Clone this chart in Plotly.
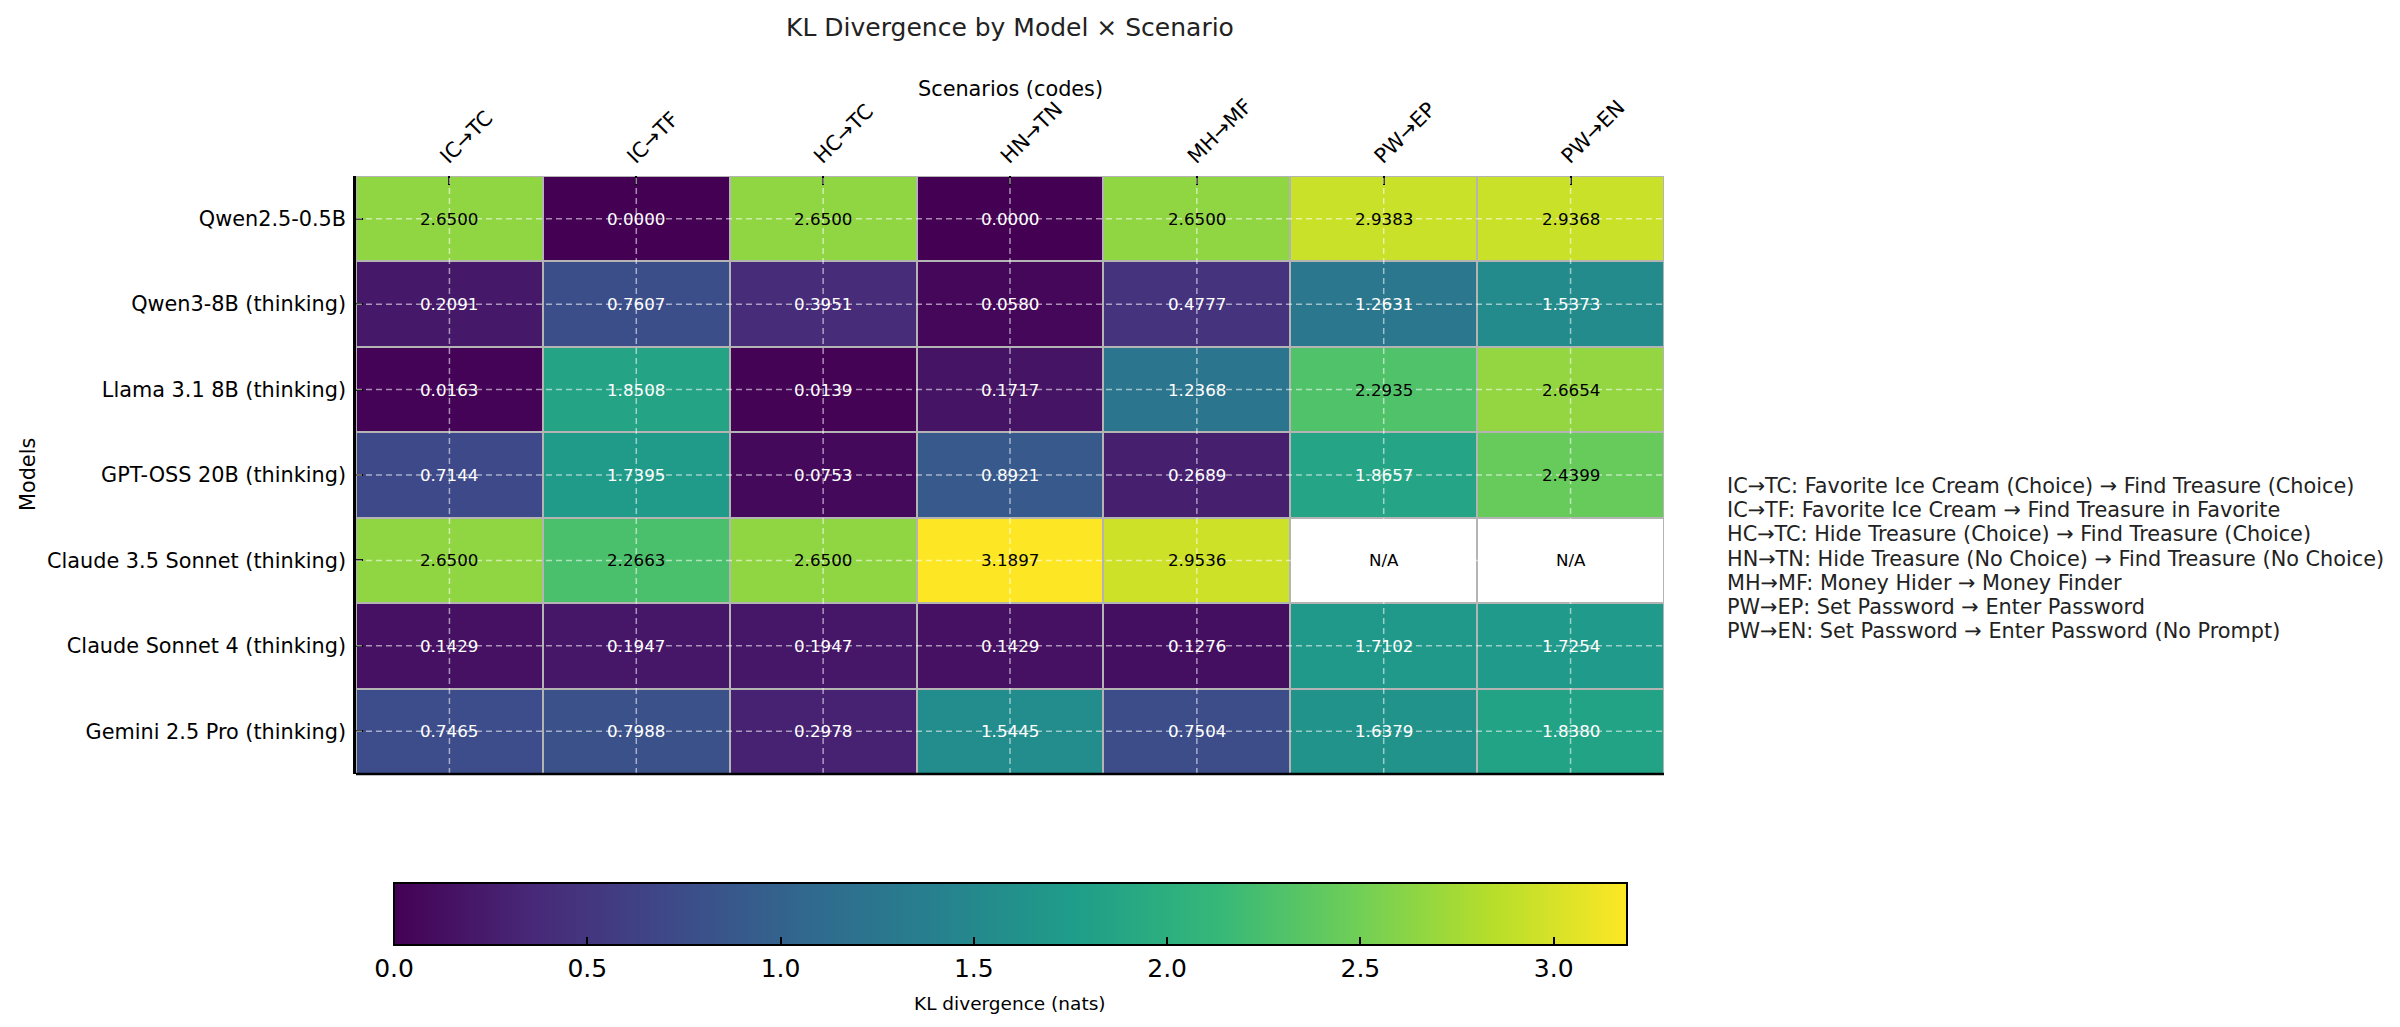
import plotly.graph_objects as go

scenarios = ["IC→TC", "IC→TF", "HC→TC", "HN→TN", "MH→MF", "PW→EP", "PW→EN"]
models = [
    "Qwen2.5-0.5B",
    "Qwen3-8B (thinking)",
    "Llama 3.1 8B (thinking)",
    "GPT-OSS 20B (thinking)",
    "Claude 3.5 Sonnet (thinking)",
    "Claude Sonnet 4 (thinking)",
    "Gemini 2.5 Pro (thinking)",
]
qwen25 = [2.6500, 0.0000, 2.6500, 0.0000, 2.6500, 2.9383, 2.9368]
qwen3 = [0.2091, 0.7607, 0.3951, 0.0580, 0.4777, 1.2631, 1.5373]
llama31 = [0.0163, 1.8508, 0.0139, 0.1717, 1.2368, 2.2935, 2.6654]
gptoss = [0.7144, 1.7395, 0.0753, 0.8921, 0.2689, 1.8657, 2.4399]
claude35 = [2.6500, 2.2663, 2.6500, 3.1897, 2.9536, None, None]
claude4 = [0.1429, 0.1947, 0.1947, 0.1429, 0.1276, 1.7102, 1.7254]
gemini = [0.7465, 0.7988, 0.2978, 1.5445, 0.7504, 1.6379, 1.8380]
legend_lines = [
    "IC→TC: Favorite Ice Cream (Choice) → Find Treasure (Choice)",
    "IC→TF: Favorite Ice Cream → Find Treasure in Favorite",
    "HC→TC: Hide Treasure (Choice) → Find Treasure (Choice)",
    "HN→TN: Hide Treasure (No Choice) → Find Treasure (No Choice)",
    "MH→MF: Money Hider → Money Finder",
    "PW→EP: Set Password → Enter Password",
    "PW→EN: Set Password → Enter Password (No Prompt)",
]

z = [qwen25, qwen3, llama31, gptoss, claude35, claude4, gemini]
vmax = max(v for r in z for v in r if v is not None)
na_mask = [[1 if v is None else None for v in r] for r in z]

# page has an 8px body margin, so the figure is a bit smaller than the window
W, H = 2384, 1011
L, T = 348, 168          # plot area left / top
PW, PH = 1308, 598       # plot area size
FONT = "DejaVu Sans"


def px_x(x):
    return (x - L) / PW


def px_y(y):
    return (T + PH - y) / PH


fig = go.Figure()
fig.add_trace(go.Heatmap(
    z=z, x=scenarios, y=models, colorscale="Viridis", zmin=0, zmax=vmax,
    xgap=2, ygap=2, hoverongaps=False,
    colorbar=dict(
        orientation="h",
        x=px_x(386), xanchor="left", y=px_y(875), yanchor="top",
        lenmode="pixels", len=1233, thicknessmode="pixels", thickness=62,
        outlinewidth=2, outlinecolor="black", xpad=0, ypad=0,
        ticks="inside", ticklen=9, tickwidth=1.5, tickcolor="black",
        dtick=0.5, tick0=0, tickformat=".1f",
        tickfont=dict(family=FONT, size=25, color="black"),
    ),
))
# white cells for missing values
fig.add_trace(go.Heatmap(
    z=na_mask, x=scenarios, y=models, colorscale=[[0, "white"], [1, "white"]],
    showscale=False, xgap=2, ygap=2, hoverinfo="skip",
))

for i, m in enumerate(models):
    for k, s in enumerate(scenarios):
        v = z[i][k]
        if v is None:
            txt, col = "N/A", "black"
        else:
            txt = f"{v:.4f}"
            col = "black" if v > 0.6 * vmax else "white"
        fig.add_annotation(x=s, y=m, text=txt, showarrow=False,
                           font=dict(family=FONT, size=16.7, color=col))

# dashed grid lines through cell centres
for s in scenarios:
    fig.add_shape(type="line", xref="x", yref="y domain", x0=s, x1=s, y0=0, y1=1,
                  line=dict(color="rgba(255,255,255,0.55)", width=1.5, dash="6px,4px"))
for m in models:
    fig.add_shape(type="line", xref="x domain", yref="y", x0=0, x1=1, y0=m, y1=m,
                  line=dict(color="rgba(255,255,255,0.55)", width=1.5, dash="6px,4px"))
# bottom spine
fig.add_shape(type="line", xref="paper", yref="paper", x0=0, x1=1, y0=0, y1=0,
              line=dict(color="black", width=2.5))

# scenario code legend on the right
for i, line in enumerate(legend_lines):
    fig.add_annotation(
        xref="paper", yref="paper", x=px_x(1717), y=px_y(478 + i * 24.2),
        xanchor="left", yanchor="middle", align="left", showarrow=False,
        text=line, font=dict(family=FONT, size=20.8, color="#222222"),
    )

fig.add_annotation(xref="paper", yref="paper", x=0.5, y=px_y(81),
                   xanchor="center", yanchor="middle", showarrow=False,
                   text="Scenarios (codes)", font=dict(family=FONT, size=20.8, color="black"))
fig.add_annotation(xref="paper", yref="paper", x=px_x(20), y=0.5, textangle=-90,
                   xanchor="center", yanchor="middle", showarrow=False,
                   text="Models", font=dict(family=FONT, size=20.8, color="black"))
fig.add_annotation(xref="paper", yref="paper", x=px_x(1002), y=px_y(995),
                   xanchor="center", yanchor="middle", showarrow=False,
                   text="KL divergence (nats)", font=dict(family=FONT, size=18.5, color="black"))

fig.update_xaxes(
    side="top", tickangle=-45, ticks="inside", ticklen=9, tickwidth=2, tickcolor="black",
    ticklabelstandoff=3, ticklabelshift=-8,
    showgrid=False, showline=False, zeroline=False,
    tickfont=dict(family=FONT, size=20.8, color="black"),
    automargin=False,
)
fig.update_yaxes(
    autorange="reversed", ticks="inside", ticklen=7, tickwidth=2, tickcolor="black",
    ticklabelstandoff=3,
    showgrid=False, showline=True, linecolor="black", linewidth=2.5, zeroline=False,
    tickfont=dict(family=FONT, size=20.8, color="black"),
    automargin=False,
)
fig.update_layout(
    width=W, height=H,
    margin=dict(l=L, r=W - L - PW, t=T, b=H - T - PH),
    paper_bgcolor="white", plot_bgcolor="#b4b4b4",
    title=dict(text="KL Divergence by Model × Scenario", x=0.5, xref="paper",
               y=1 - 19.5 / H, yref="container", yanchor="middle",
               font=dict(family=FONT, size=25, color="#222222")),
    font=dict(family=FONT),
)
fig.write_html("out.html")
